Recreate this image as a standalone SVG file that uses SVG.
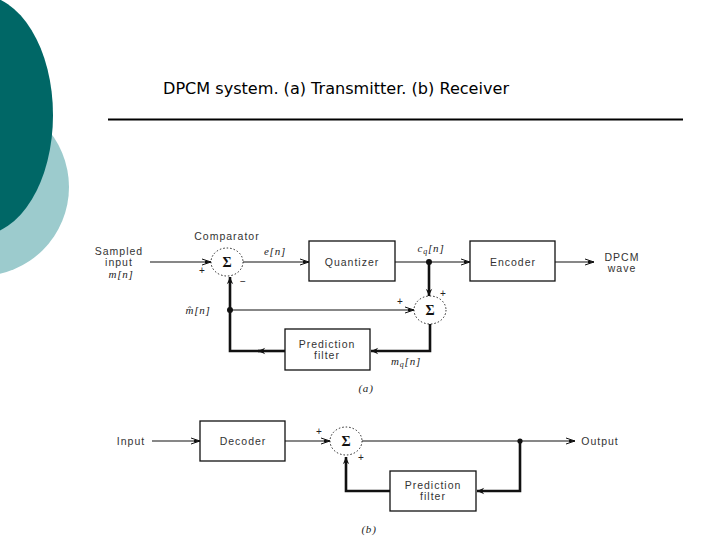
<svg xmlns="http://www.w3.org/2000/svg" width="720" height="540" viewBox="0 0 720 540">
<defs>
<marker id="arr" viewBox="-10 -4 12 8" refX="0" refY="0" markerWidth="12" markerHeight="8" markerUnits="userSpaceOnUse" orient="auto">
<path d="M-9,-3 L0,0 L-9,3" fill="none" stroke="#111" stroke-width="1"/>
<path d="M-6,-1.6 L0,0 L-6,1.6 Z" fill="#111"/>
</marker>
<marker id="arrT" viewBox="-10 -5 12 10" refX="0" refY="0" markerWidth="10" markerHeight="8" markerUnits="userSpaceOnUse" orient="auto">
<path d="M-9,-4 L0,0 L-9,4 L-6,0 Z" fill="#111"/>
</marker>
<style>
.bg1{fill:#006766}
.bg2{fill:#9ccbcd}
.box{fill:#fff;stroke:#111;stroke-width:1.3}
.sum{fill:#fff;stroke:#222;stroke-width:1;stroke-dasharray:1.5 2}
.thin{fill:none;stroke:#111;stroke-width:1.2}
.thick{fill:none;stroke:#111;stroke-width:2.6}
.t{font-family:"Liberation Sans",Arial,sans-serif;font-size:10.5px;letter-spacing:1px;fill:#333;text-anchor:middle}
.m{font-family:"Liberation Serif","Times New Roman",serif;font-style:italic;font-size:11px;fill:#222;text-anchor:middle;letter-spacing:0.8px}
.s{font-family:"Liberation Serif","Times New Roman",serif;font-weight:bold;font-size:14px;fill:#111;text-anchor:middle}
.p{font-family:"Liberation Sans",Arial,sans-serif;font-size:10px;fill:#222;text-anchor:middle}
.title{font-family:"DejaVu Sans",Verdana,sans-serif;font-size:16px;fill:#000}
</style>
</defs>
<rect width="720" height="540" fill="#fff"/>
<circle class="bg2" cx="-20" cy="187" r="89"/>
<ellipse class="bg1" cx="-20" cy="115" rx="73" ry="120"/>
<text class="title" x="163" y="94" textLength="346" lengthAdjust="spacingAndGlyphs">DPCM system. (a) Transmitter. (b) Receiver</text>
<line x1="108" y1="119.5" x2="683" y2="119.5" stroke="#000" stroke-width="2"/>

<g id="connectors">
<path class="thin" d="M150,262 H211" marker-end="url(#arr)"/>
<path class="thin" d="M243,262 H309" marker-end="url(#arr)"/>
<path class="thin" d="M395,262 H470" marker-end="url(#arr)"/>
<path class="thin" d="M555,262 H594" marker-end="url(#arr)"/>
<path class="thin" d="M230,310 H414" marker-end="url(#arr)"/>
<path class="thick" d="M429,262 V296" marker-end="url(#arrT)"/>
<path class="thick" d="M430,324 V351 H371" marker-end="url(#arrT)"/>
<path class="thick" d="M285,351 H258" marker-end="url(#arrT)"/>
<path class="thick" d="M262,351 H230 V277" marker-end="url(#arrT)"/>
<path class="thin" d="M152,441 H200" marker-end="url(#arr)"/>
<path class="thin" d="M285,441 H330" marker-end="url(#arr)"/>
<path class="thin" d="M362,441 H575" marker-end="url(#arr)"/>
<path class="thick" d="M520,441 V491 H477" marker-end="url(#arrT)"/>
<path class="thick" d="M390,491 H346 V457" marker-end="url(#arrT)"/>
<circle cx="429" cy="262" r="3" fill="#111"/>
<circle cx="230" cy="310" r="3" fill="#111"/>
<circle cx="520" cy="441" r="2.6" fill="#111"/>
</g>

<g id="sampled-input">
<text class="t" x="119" y="255">Sampled</text>
<text class="t" x="119" y="266">input</text>
<text class="m" x="121" y="278">m[n]</text>
</g>

<g id="comparator">
<ellipse class="sum" cx="227" cy="262" rx="16" ry="14"/>
<text class="s" x="227" y="267">Σ</text>
<text class="t" x="227" y="240">Comparator</text>
<text class="p" x="202" y="274">+</text>
<text class="p" x="243" y="285">−</text>
</g>

<text class="m" x="275" y="255">e[n]</text>

<g id="quantizer">
<rect class="box" x="309" y="241" width="86" height="40"/>
<text class="t" x="352" y="266">Quantizer</text>
</g>

<text class="m" x="431" y="252">c<tspan font-size="8" dy="2">q</tspan><tspan dy="-2">[n]</tspan></text>

<g id="encoder">
<rect class="box" x="470" y="241" width="85" height="40"/>
<text class="t" x="513" y="266">Encoder</text>
</g>

<g id="dpcm-wave">
<text class="t" x="622" y="261">DPCM</text>
<text class="t" x="622" y="272">wave</text>
</g>

<g id="adder">
<ellipse class="sum" cx="430" cy="310" rx="16" ry="14"/>
<text class="s" x="430" y="315">Σ</text>
<text class="p" x="443" y="297">+</text>
<text class="p" x="400" y="305">+</text>
</g>

<text class="m" x="198" y="314">m̂[n]</text>

<g id="prediction-filter-a">
<rect class="box" x="285" y="329" width="85" height="41"/>
<text class="t" x="327" y="348">Prediction</text>
<text class="t" x="327" y="359">filter</text>
</g>

<text class="m" x="406" y="365">m<tspan font-size="8" dy="2">q</tspan><tspan dy="-2">[n]</tspan></text>
<text class="m" x="366" y="392">(a)</text>

<g id="input">
<text class="t" x="131" y="445">Input</text>
</g>

<g id="decoder">
<rect class="box" x="200" y="421" width="85" height="40"/>
<text class="t" x="243" y="445">Decoder</text>
</g>

<g id="receiver-sum">
<ellipse class="sum" cx="346" cy="441" rx="16" ry="14"/>
<text class="s" x="346" y="446">Σ</text>
<text class="p" x="319" y="435">+</text>
<text class="p" x="361" y="461">+</text>
</g>

<g id="output">
<text class="t" x="600" y="445">Output</text>
</g>

<g id="prediction-filter-b">
<rect class="box" x="390" y="471" width="86" height="40"/>
<text class="t" x="433" y="489">Prediction</text>
<text class="t" x="433" y="500">filter</text>
</g>

<text class="m" x="369" y="533">(b)</text>
</svg>
